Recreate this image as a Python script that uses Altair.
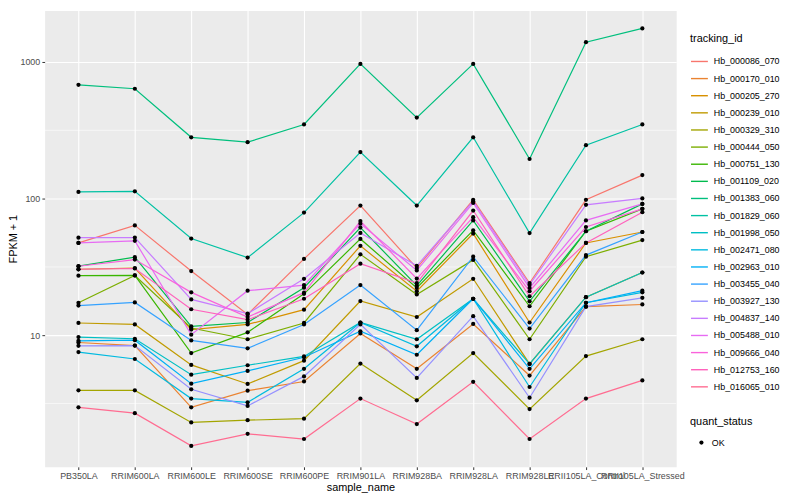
import altair as alt
import pandas as pd

samples = ["PB350LA", "RRIM600LA", "RRIM600LE", "RRIM600SE", "RRIM600PE", "RRIM901LA",
           "RRIM928BA", "RRIM928LA", "RRIM928LE", "RRII105LA_Control", "RRII105LA_Stressed"]

ids = ["Hb_000086_070", "Hb_000170_010", "Hb_000205_270", "Hb_000239_010", "Hb_000329_310",
       "Hb_000444_050", "Hb_000751_130", "Hb_001109_020", "Hb_001383_060", "Hb_001829_060",
       "Hb_001998_050", "Hb_002471_080", "Hb_002963_010", "Hb_003455_040", "Hb_003927_130",
       "Hb_004837_140", "Hb_005488_010", "Hb_009666_040", "Hb_012753_160", "Hb_016065_010"]

colors = ["#F8766D", "#EA8331", "#D89000", "#C09B00", "#A3A500", "#7CAE00", "#39B600",
          "#00BB4E", "#00BF7D", "#00C1A3", "#00BFC4", "#00BAE0", "#00B0F6", "#35A2FF",
          "#9590FF", "#C77CFF", "#E76BF3", "#FA62DB", "#FF62BC", "#FF6C91"]

hb_000086_070 = [47.4, 63.7, 29.5, 14.2, 36.2, 89.0, 31.0, 98.0, 24.1, 98.0, 148.6]
hb_000170_010 = [8.85, 8.4, 2.97, 3.93, 4.59, 10.3, 5.68, 12.1, 5.07, 16.2, 16.8]
hb_000205_270 = [30.4, 31.0, 11.0, 12.0, 15.4, 45.1, 21.0, 55.5, 12.4, 47.4, 57.0]
hb_000239_010 = [12.3, 12.0, 6.07, 4.40, 6.52, 17.8, 13.6, 25.9, 6.17, 19.0, 28.8]
hb_000329_310 = [3.95, 3.95, 2.30, 2.39, 2.45, 6.2, 3.34, 7.41, 2.88, 7.04, 9.35]
hb_000444_050 = [17.3, 27.4, 11.3, 9.35, 12.3, 39.1, 19.9, 35.6, 9.35, 37.6, 49.7]
hb_000751_130 = [27.3, 27.4, 7.41, 10.5, 20.1, 50.7, 22.2, 58.6, 16.3, 57.7, 84.2]
hb_001109_020 = [32.1, 37.3, 11.6, 12.4, 22.3, 61.4, 23.1, 69.3, 17.7, 57.7, 91.5]
hb_001383_060 = [681, 637, 281, 259, 349, 968, 392, 968, 195, 1396, 1762]
hb_001829_060 = [112, 113, 51, 37, 79, 219, 89, 281, 56, 246, 349]
hb_001998_050 = [9.7, 9.43, 5.15, 6.03, 7.0, 12.4, 9.35, 18.5, 6.17, 19.0, 28.8]
hb_002471_080 = [7.53, 6.7, 3.44, 3.23, 5.68, 12.4, 8.3, 18.5, 4.18, 17.3, 20.6]
hb_002963_010 = [9.1, 9.2, 4.42, 5.48, 6.9, 10.7, 7.2, 18.5, 5.68, 17.3, 21.2]
hb_003455_040 = [16.5, 17.4, 9.16, 8.02, 12.0, 23.3, 10.9, 37.6, 11.2, 38.6, 57.0]
hb_003927_130 = [8.37, 8.4, 4.02, 3.04, 5.0, 12.0, 4.87, 13.8, 3.49, 16.2, 18.8]
hb_004837_140 = [51.8, 51.9, 18.3, 14.4, 25.9, 56.1, 32.2, 95.6, 23.4, 90.0, 100.4]
hb_005488_010 = [47.4, 49.1, 10.1, 21.2, 23.3, 65.6, 29.8, 93.0, 22.2, 69.3, 91.5]
hb_009666_040 = [32.0, 35.8, 20.6, 13.6, 20.5, 68.5, 26.0, 73.2, 21.0, 62.0, 84.2]
hb_012753_160 = [30.4, 30.8, 15.5, 13.0, 18.5, 33.4, 24.1, 81.8, 19.3, 47.4, 79.6]
hb_016065_010 = [2.97, 2.69, 1.55, 1.90, 1.74, 3.44, 2.24, 4.56, 1.74, 3.44, 4.67]

series = [hb_000086_070, hb_000170_010, hb_000205_270, hb_000239_010, hb_000329_310,
          hb_000444_050, hb_000751_130, hb_001109_020, hb_001383_060, hb_001829_060,
          hb_001998_050, hb_002471_080, hb_002963_010, hb_003455_040, hb_003927_130,
          hb_004837_140, hb_005488_010, hb_009666_040, hb_012753_160, hb_016065_010]

major_ticks = [10, 100, 1000]
minor_ticks = [10 ** 0.5, 10 ** 1.5, 10 ** 2.5]

rows = []
for k, (tid, vals) in enumerate(zip(ids, series)):
    for s, v in zip(samples, vals):
        rows.append({"tracking_id": tid, "sample_name": s, "fpkm": v,
                     "quant_status": "OK", "order": k})
df = pd.DataFrame(rows)
minor_df = pd.DataFrame({"fpkm": minor_ticks})

FONT = "Liberation Sans"
yscale = alt.Scale(type="log", domain=[1.089, 2382], nice=False)
xscale = alt.Scale(type="point", padding=0.6)

x_enc = alt.X("sample_name:N", sort=samples, scale=xscale, title="sample_name",
              axis=alt.Axis(grid=True, gridColor="white", gridWidth=1.1, domain=False,
                            tickSize=2.75, tickColor="#333333", labelPadding=2.2,
                            labelColor="#4D4D4D", labelFontSize=9, labelAngle=0,
                            titleFontSize=11, titleFontWeight="normal", titleColor="black",
                            titlePadding=1, labelFont=FONT, titleFont=FONT))
y_enc = alt.Y("fpkm:Q", scale=yscale, title="FPKM + 1",
              axis=alt.Axis(values=major_ticks, format="d", grid=True, gridColor="white",
                            gridWidth=1.1, domain=False, tickSize=2.75, tickColor="#333333",
                            labelPadding=2.2, labelColor="#4D4D4D", labelFontSize=9,
                            titleFontSize=11, titleFontWeight="normal", titleColor="black",
                            titlePadding=1, labelFont=FONT, titleFont=FONT))

minor = alt.Chart(minor_df).mark_rule(color="white", strokeWidth=0.6).encode(
    y=alt.Y("fpkm:Q", scale=yscale)
)

lines = alt.Chart(df).mark_line(strokeWidth=1.2).encode(
    x=x_enc,
    y=y_enc,
    color=alt.Color("tracking_id:N", scale=alt.Scale(domain=ids, range=colors),
                    legend=alt.Legend(title="tracking_id", orient="none", legendX=652,
                                      legendY=23, symbolType="stroke", symbolSize=290,
                                      symbolStrokeWidth=1.4, rowPadding=2.3,
                                      labelFontSize=9, labelColor="black", labelFont=FONT,
                                      titleFontSize=11, titleFontWeight="normal",
                                      titleColor="black", titleFont=FONT, titlePadding=8,
                                      labelOffset=5)),
    order=alt.Order("order:Q"),
)

points = alt.Chart(df).mark_point(filled=True, size=18, opacity=1, color="black").encode(
    x=alt.X("sample_name:N", sort=samples, scale=xscale),
    y=alt.Y("fpkm:Q", scale=yscale),
    shape=alt.Shape("quant_status:N", scale=alt.Scale(domain=["OK"], range=["circle"]),
                    legend=alt.Legend(title="quant_status", orient="none", legendX=652,
                                      legendY=410, symbolSize=18, symbolFillColor="black",
                                      symbolStrokeColor="black", symbolOffset=7,
                                      labelFontSize=9, labelColor="black", labelFont=FONT,
                                      titleFontSize=11, titleFontWeight="normal",
                                      titleColor="black", titleFont=FONT, titlePadding=11,
                                      labelOffset=6)),
)

chart = alt.layer(minor, lines, points).properties(
    width=638, height=461,
    autosize=alt.AutoSizeParams(type="none"),
    padding={"left": 37, "top": 0, "right": 117, "bottom": 31},
).configure(
    font=FONT, background="white",
    view=alt.ViewConfig(fill="#EBEBEB", stroke="transparent"),
)

chart.save("out.html", embed_options={"renderer": "svg", "actions": False})
